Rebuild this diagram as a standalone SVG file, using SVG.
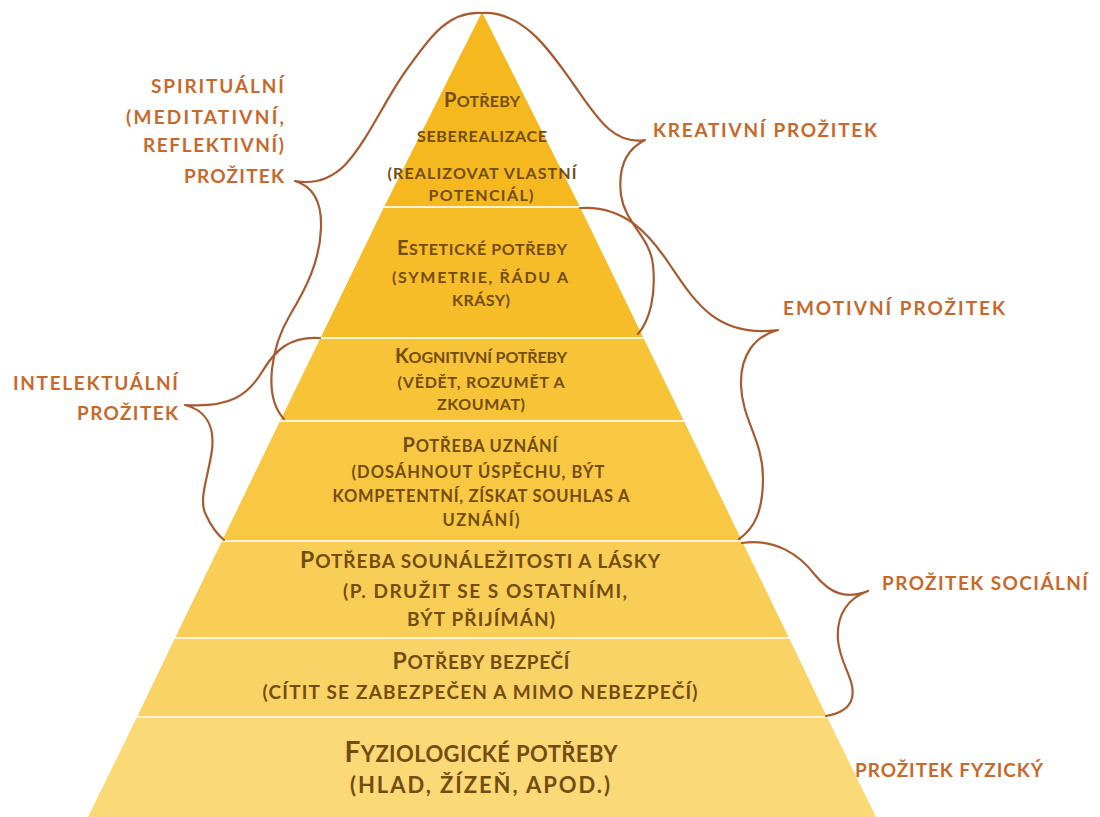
<svg xmlns="http://www.w3.org/2000/svg" width="1100" height="817" viewBox="0 0 1100 817">
<style>
.t{font-family:Lato,"Open Sans","Liberation Sans",sans-serif;font-weight:bold;fill:#734C10;text-anchor:middle}
.s1{font-size:16px}.b1{font-size:20px}
.s2{font-size:16.5px}.b2{font-size:20px}
.s3{font-size:19px}.b3{font-size:23px}
.s4{font-size:22px}.b4{font-size:28px}
.lab{font-family:Lato,"Open Sans","Liberation Sans",sans-serif;font-weight:bold;font-size:19px;fill:#C8692C}
.end{text-anchor:end}
.sep{stroke:#FFF3D8;stroke-width:2}
.brace{fill:none;stroke:#A85A30;stroke-width:2.2;stroke-linecap:round;stroke-linejoin:round}
</style>
<rect width="1100" height="817" fill="#FFFFFF"/>
<g id="layer-seberealizace">
<polygon points="482,12 384,207 580,207" fill="#F5B81F"/>
<text class="t s1" x="482" y="107" textLength="76"><tspan class="b1">P</tspan>OTŘEBY</text>
<text class="t s1" x="482" y="142" textLength="130">SEBEREALIZACE</text>
<text class="t s1" x="482" y="179" textLength="189">(REALIZOVAT VLASTNÍ</text>
<text class="t s1" x="481" y="201" textLength="105">POTENCIÁL)</text>
</g>
<g id="layer-esteticke">
<polygon points="384,207 580,207 643.5,338 320.5,338" fill="#F6BD28"/>
<text class="t s1" x="482" y="255" textLength="170"><tspan class="b1">E</tspan>STETICKÉ POTŘEBY</text>
<text class="t s1" x="480" y="283" textLength="176">(SYMETRIE, ŘÁDU A</text>
<text class="t s1" x="481" y="306" textLength="58">KRÁSY)</text>
</g>
<g id="layer-kognitivni">
<polygon points="320.5,338 643.5,338 684,421 280,421" fill="#F7C337"/>
<text class="t s1" x="481" y="363" textLength="172"><tspan class="b1">K</tspan>OGNITIVNÍ POTŘEBY</text>
<text class="t s1" x="481" y="388" textLength="167">(VĚDĚT, ROZUMĚT A</text>
<text class="t s1" x="481" y="410" textLength="88">ZKOUMAT)</text>
</g>
<g id="layer-uznani">
<polygon points="280,421 684,421 742,541 222,541" fill="#F8C843"/>
<text class="t s2" x="480" y="452" textLength="155"><tspan class="b2">P</tspan>OTŘEBA UZNÁNÍ</text>
<text class="t s2" x="478" y="478" textLength="253">(DOSÁHNOUT ÚSPĚCHU, BÝT</text>
<text class="t s2" x="481" y="502" textLength="297">KOMPETENTNÍ, ZÍSKAT SOUHLAS A</text>
<text class="t s2" x="481" y="526" textLength="77">UZNÁNÍ)</text>
</g>
<g id="layer-sounalezitost">
<polygon points="222,541 742,541 789,638 175,638" fill="#F9CE57"/>
<text class="t s3" x="480" y="568" textLength="360"><tspan class="b3">P</tspan>OTŘEBA SOUNÁLEŽITOSTI A LÁSKY</text>
<text class="t s3" x="485" y="598" textLength="284">(P. DRUŽIT SE S OSTATNÍMI,</text>
<text class="t s3" x="481" y="626" textLength="148">BÝT PŘIJÍMÁN)</text>
</g>
<g id="layer-bezpeci">
<polygon points="175,638 789,638 827,717 137,717" fill="#FAD366"/>
<text class="t s3" x="481" y="669" textLength="177"><tspan class="b3">P</tspan>OTŘEBY BEZPEČÍ</text>
<text class="t s3" x="480" y="699" textLength="435">(CÍTIT SE ZABEZPEČEN A MIMO NEBEZPEČÍ)</text>
</g>
<g id="layer-fyziologicke">
<polygon points="137,717 827,717 876,817 88,817" fill="#FBD977"/>
<text class="t s4" x="481" y="762" textLength="273"><tspan class="b4">F</tspan>YZIOLOGICKÉ POTŘEBY</text>
<text class="t s4" x="480" y="793" textLength="260">(HLAD, ŽÍZEŇ, APOD.)</text>
</g>
<g id="separators">
<line class="sep" x1="384" y1="207" x2="580" y2="207"/>
<line class="sep" x1="320.5" y1="338" x2="643.5" y2="338"/>
<line class="sep" x1="280" y1="421" x2="684" y2="421"/>
<line class="sep" x1="222" y1="541" x2="742" y2="541"/>
<line class="sep" x1="175" y1="638" x2="789" y2="638"/>
<line class="sep" x1="137" y1="717" x2="827" y2="717"/>
</g>
<g id="connectors">
<path class="brace" d="M482,13 C445,10 425,45 405,72 C385,100 368,140 345,165 C330,180 312,184 295,181 C312,186 322,200 321,228 C320,262 305,290 290,315 C272,345 262,395 284,419"/>
<path class="brace" d="M482,13 C522,11 548,48 572,82 C596,116 612,145 645,140 C625,150 618,170 621,195 C625,224 650,236 653,265 C656,295 650,320 638,334"/>
<path class="brace" d="M580,208 C625,205 650,235 670,265 C695,302 717,338 778,330 C755,336 740,355 741,385 C742,420 763,440 763,478 C763,510 755,528 739,539"/>
<path class="brace" d="M320,338 C290,336 275,350 262,372 C248,395 230,408 185,405 C205,410 215,425 212,450 C208,478 198,500 206,515 C212,528 218,535 224,540"/>
<path class="brace" d="M742,543 C775,538 800,555 815,575 C830,593 845,600 868,591 C848,598 836,615 838,640 C840,665 856,680 852,698 C849,710 838,714 826,716"/>
</g>
<g id="label-spiritualni">
<text class="lab end" x="284" y="93" textLength="133">SPIRITUÁLNÍ</text>
<text class="lab end" x="284" y="124" textLength="158">(MEDITATIVNÍ,</text>
<text class="lab end" x="284" y="152" textLength="141">REFLEKTIVNÍ)</text>
<text class="lab end" x="284" y="183" textLength="100">PROŽITEK</text>
</g>
<g id="label-kreativni">
<text class="lab" x="653" y="137" textLength="224">KREATIVNÍ PROŽITEK</text>
</g>
<g id="label-emotivni">
<text class="lab" x="783" y="315" textLength="222">EMOTIVNÍ PROŽITEK</text>
</g>
<g id="label-intelektualni">
<text class="lab end" x="178" y="390" textLength="165">INTELEKTUÁLNÍ</text>
<text class="lab end" x="178" y="420" textLength="101">PROŽITEK</text>
</g>
<g id="label-socialni">
<text class="lab" x="882" y="590" textLength="206">PROŽITEK SOCIÁLNÍ</text>
</g>
<g id="label-fyzicky">
<text class="lab" x="855" y="777" textLength="188">PROŽITEK FYZICKÝ</text>
</g>
</svg>
